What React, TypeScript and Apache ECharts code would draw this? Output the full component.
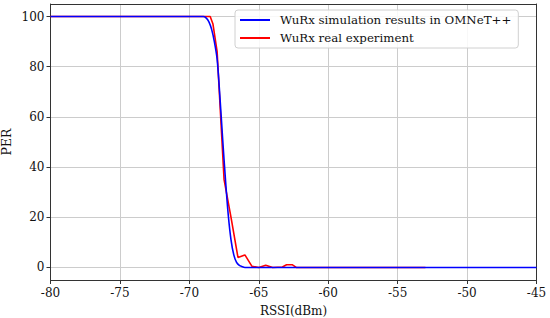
import React, { useEffect, useRef } from "react";
import * as echarts from "echarts";

const xTicks = [-80, -75, -70, -65, -60, -55, -50, -45];
const yTicks = [0, 20, 40, 60, 80, 100];

const simX = [-80, -69, -68.8, -68.6, -68.4, -68.2, -68, -67.8, -67.6, -67.4, -67.2, -67, -66.8, -66.6, -66.4, -66.2, -66, -45];
const simY = [100, 100, 99.5, 98, 95, 90, 83, 68, 51, 35, 21, 11, 5, 2, 0.8, 0.3, 0, 0];

const realX = [-80, -68.5, -68.3, -68, -67.5, -67, -66.5, -66, -65.5, -65, -64.5, -64, -63.3, -63, -62.6, -62.3, -53];
const realY = [100, 100, 97, 86, 35, 20, 4, 5, 0.5, 0, 0.9, 0, 0.2, 1.1, 1.1, 0, 0];

const seriesNames = ["WuRx simulation results in OMNeT++", "WuRx real experiment"];
const colors = ["#0000ff", "#ff0000"];

export default function App() {
  const ref = useRef<HTMLDivElement>(null);
  useEffect(() => {
    const chart = echarts.init(ref.current!, null, { renderer: "svg" });
    const font = "'DejaVu Serif', 'Liberation Serif', serif";
    const frameAxis = {
      axisLine: { show: true, onZero: false, lineStyle: { color: "#333" } },
      axisTick: { show: false },
      axisLabel: { show: false },
      splitLine: { show: false },
    };
    chart.setOption({
      animation: false,
      textStyle: { fontFamily: font },
      grid: { left: 50.5, right: 13.5, top: 4, bottom: 38, outerBoundsMode: "none", containLabel: false },
      legend: {
        orient: "vertical",
        left: 235,
        top: 10,
        itemWidth: 30,
        itemHeight: 2,
        itemGap: 6,
        padding: [4, 7, 4, 5],
        backgroundColor: "rgba(255,255,255,0.85)",
        borderColor: "#d0d0d0",
        borderWidth: 1,
        borderRadius: 3,
        icon: "rect",
        textStyle: { fontFamily: font, fontSize: 11.8, color: "#111", padding: [0, 0, 0, 5] },
        data: seriesNames,
      },
      xAxis: [
        {
          type: "value",
          min: -80,
          max: -45,
          interval: 5,
          name: "RSSI(dBm)",
          nameLocation: "middle",
          nameGap: 25,
          nameMoveOverlap: false,
          nameTextStyle: { fontFamily: font, fontSize: 12, color: "#111" },
          axisLine: { show: true, onZero: false, lineStyle: { color: "#333" } },
          axisTick: { show: true, length: 4, lineStyle: { color: "#333" } },
          axisLabel: { fontFamily: font, fontSize: 12, color: "#111", margin: 7 },
          splitLine: { show: true, lineStyle: { color: "#cccccc" } },
        },
        { type: "value", min: -80, max: -45, position: "top", ...frameAxis },
      ],
      yAxis: [
        {
          type: "value",
          min: -5,
          max: 105,
          name: "PER",
          nameLocation: "middle",
          nameGap: 38,
          nameMoveOverlap: false,
          nameTextStyle: { fontFamily: font, fontSize: 12.5, color: "#111" },
          axisLine: { show: true, onZero: false, lineStyle: { color: "#333" } },
          axisTick: { show: true, length: 4, lineStyle: { color: "#333" }, customValues: yTicks },
          axisLabel: { fontFamily: font, fontSize: 12, color: "#111", margin: 6, customValues: yTicks },
          splitLine: { show: false },
        },
        { type: "value", min: -5, max: 105, position: "right", ...frameAxis },
      ],
      series: [
        {
          name: seriesNames[0],
          type: "line",
          data: simX.map((x, i) => [x, simY[i]]),
          showSymbol: false,
          smooth: 0.3,
          lineStyle: { color: colors[0], width: 1.6 },
          itemStyle: { color: colors[0] },
          z: 3,
        },
        {
          name: seriesNames[1],
          type: "line",
          data: realX.map((x, i) => [x, realY[i]]),
          showSymbol: false,
          lineStyle: { color: colors[1], width: 1.6 },
          itemStyle: { color: colors[1] },
          z: 2,
          markLine: {
            silent: true,
            symbol: "none",
            label: { show: false },
            lineStyle: { color: "#cccccc", width: 1, type: "solid" },
            data: yTicks.map((v) => ({ yAxis: v })),
            z: 0,
          },
        },
      ],
    });
    return () => chart.dispose();
  }, []);
  return <div ref={ref} style={{ position: "absolute", left: 0, top: 0, width: 550, height: 318 }} />;
}
